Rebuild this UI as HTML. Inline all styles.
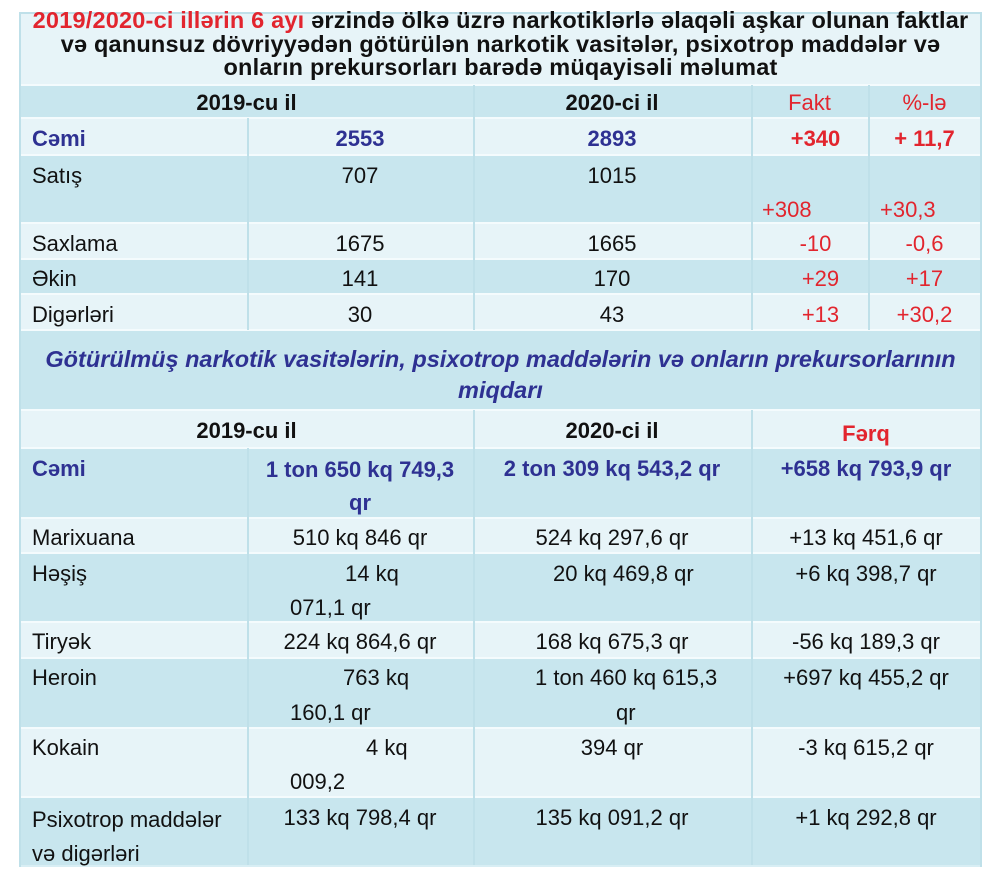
<!DOCTYPE html>
<html><head><meta charset="utf-8"><style>
body{margin:0;width:1000px;height:880px;background:#fff;position:relative;overflow:hidden;font-family:"Liberation Sans",Arial,sans-serif;}
.r{position:absolute;left:20px;width:961px;}
.d{background:#c8e6ee}.l{background:#e7f4f8}
.h{position:absolute;left:20px;width:961px;height:2px;background:#f4fbfd}
.v{position:absolute;width:2px;background:#bfe0e9}
.t{position:absolute;font-size:22px;white-space:nowrap;color:#111;line-height:26px}
.c{text-align:center}
.b{font-weight:bold}
.bl{color:#2e3192}.rd{color:#e2252e}
</style></head><body>
<div class="r l" style="top:12px;height:73px"></div>
<div class="r d" style="top:85px;height:33px"></div>
<div class="r l" style="top:118px;height:37px"></div>
<div class="r d" style="top:155px;height:68px"></div>
<div class="r l" style="top:223px;height:36px"></div>
<div class="r d" style="top:259px;height:35px"></div>
<div class="r l" style="top:294px;height:36px"></div>
<div class="r d" style="top:330px;height:80px"></div>
<div class="r l" style="top:410px;height:38px"></div>
<div class="r d" style="top:448px;height:70px"></div>
<div class="r l" style="top:518px;height:35px"></div>
<div class="r d" style="top:553px;height:69px"></div>
<div class="r l" style="top:622px;height:36px"></div>
<div class="r d" style="top:658px;height:70px"></div>
<div class="r l" style="top:728px;height:69px"></div>
<div class="r d" style="top:797px;height:68px"></div>
<div class="h" style="top:84px"></div><div class="h" style="top:117px"></div><div class="h" style="top:154px"></div>
<div class="h" style="top:222px"></div><div class="h" style="top:258px"></div><div class="h" style="top:293px"></div>
<div class="h" style="top:329px"></div><div class="h" style="top:409px"></div><div class="h" style="top:447px"></div>
<div class="h" style="top:517px"></div><div class="h" style="top:552px"></div><div class="h" style="top:621px"></div>
<div class="h" style="top:657px"></div><div class="h" style="top:727px"></div><div class="h" style="top:796px"></div>
<div class="h" style="top:865px;background:#d8eef4"></div>
<div class="v" style="left:19px;top:12px;height:855px"></div>
<div class="v" style="left:980px;top:12px;height:855px"></div>
<div class="v" style="left:247px;top:118px;height:212px"></div>
<div class="v" style="left:473px;top:85px;height:245px"></div>
<div class="v" style="left:751px;top:85px;height:245px"></div>
<div class="v" style="left:868px;top:85px;height:245px"></div>
<div class="v" style="left:473px;top:410px;height:455px"></div>
<div class="v" style="left:751px;top:410px;height:455px"></div>
<div class="v" style="left:247px;top:448px;height:417px"></div>
<div class="v" style="left:19px;top:12px;height:2px;width:962px"></div>
<div class="t c b" style="left:20px;width:961px;top:9px;line-height:23.5px;font-size:23.5px;letter-spacing:0.2px">
<span class="rd">2019/2020-ci illərin 6 ayı</span> ərzində ölkə üzrə narkotiklərlə əlaqəli aşkar olunan faktlar<br>və qanunsuz dövriyyədən götürülən narkotik vasitələr, psixotrop maddələr və<br>onların prekursorları barədə müqayisəli məlumat</div>
<div class="t c b" style="left:20px;width:453px;top:90px">2019-cu il</div>
<div class="t c b" style="left:473px;width:278px;top:90px">2020-ci il</div>
<div class="t c rd" style="left:751px;width:117px;top:90px">Fakt</div>
<div class="t c rd" style="left:868px;width:113px;top:90px">%-lə</div>
<div class="t b bl" style="left:32px;top:126px">Cəmi</div>
<div class="t c b bl" style="left:247px;width:226px;top:126px">2553</div>
<div class="t c b bl" style="left:473px;width:278px;top:126px">2893</div>
<div class="t c b rd" style="left:757px;width:117px;top:126px">+340</div>
<div class="t c b rd" style="left:868px;width:113px;top:126px">+ 11,7</div>
<div class="t" style="left:32px;top:163px">Satış</div>
<div class="t c" style="left:247px;width:226px;top:163px">707</div>
<div class="t c" style="left:473px;width:278px;top:163px">1015</div>
<div class="t rd" style="left:762px;top:197px">+308</div>
<div class="t rd" style="left:880px;top:197px">+30,3</div>
<div class="t" style="left:32px;top:231px">Saxlama</div>
<div class="t c" style="left:247px;width:226px;top:231px">1675</div>
<div class="t c" style="left:473px;width:278px;top:231px">1665</div>
<div class="t c rd" style="left:757px;width:117px;top:231px">-10</div>
<div class="t c rd" style="left:868px;width:113px;top:231px">-0,6</div>
<div class="t" style="left:32px;top:266px">Əkin</div>
<div class="t c" style="left:247px;width:226px;top:266px">141</div>
<div class="t c" style="left:473px;width:278px;top:266px">170</div>
<div class="t c rd" style="left:762px;width:117px;top:266px">+29</div>
<div class="t c rd" style="left:868px;width:113px;top:266px">+17</div>
<div class="t" style="left:32px;top:302px">Digərləri</div>
<div class="t c" style="left:247px;width:226px;top:302px">30</div>
<div class="t c" style="left:473px;width:278px;top:302px">43</div>
<div class="t c rd" style="left:762px;width:117px;top:302px">+13</div>
<div class="t c rd" style="left:868px;width:113px;top:302px">+30,2</div>
<div class="t c b bl" style="left:20px;width:961px;top:344px;font-style:italic;line-height:31px;font-size:23.5px">Götürülmüş narkotik vasitələrin, psixotrop maddələrin və onların prekursorlarının<br>miqdarı</div>
<div class="t c b" style="left:20px;width:453px;top:418px">2019-cu il</div>
<div class="t c b" style="left:473px;width:278px;top:418px">2020-ci il</div>
<div class="t c b rd" style="left:751px;width:230px;top:421px">Fərq</div>
<div class="t b bl" style="left:32px;top:456px">Cəmi</div>
<div class="t c b bl" style="left:247px;width:226px;top:453px;line-height:33px">1 ton 650 kq 749,3<br>qr</div>
<div class="t c b bl" style="left:473px;width:278px;top:456px">2 ton 309 kq 543,2 qr</div>
<div class="t c b bl" style="left:751px;width:230px;top:456px">+658 kq 793,9 qr</div>
<div class="t" style="left:32px;top:525px">Marixuana</div>
<div class="t c" style="left:247px;width:226px;top:525px">510 kq 846 qr</div>
<div class="t c" style="left:473px;width:278px;top:525px">524 kq 297,6 qr</div>
<div class="t c" style="left:751px;width:230px;top:525px">+13 kq 451,6 qr</div>
<div class="t" style="left:32px;top:561px">Həşiş</div>
<div class="t" style="left:345px;top:561px">14 kq</div>
<div class="t" style="left:290px;top:595px">071,1 qr</div>
<div class="t" style="left:553px;top:561px">20 kq 469,8 qr</div>
<div class="t c" style="left:751px;width:230px;top:561px">+6 kq 398,7 qr</div>
<div class="t" style="left:32px;top:629px">Tiryək</div>
<div class="t c" style="left:247px;width:226px;top:629px">224 kq 864,6 qr</div>
<div class="t c" style="left:473px;width:278px;top:629px">168 kq 675,3 qr</div>
<div class="t c" style="left:751px;width:230px;top:629px">-56 kq 189,3 qr</div>
<div class="t" style="left:32px;top:665px">Heroin</div>
<div class="t" style="left:343px;top:665px">763 kq</div>
<div class="t" style="left:290px;top:700px">160,1 qr</div>
<div class="t" style="left:535px;top:665px">1 ton 460 kq 615,3</div>
<div class="t" style="left:616px;top:700px">qr</div>
<div class="t c" style="left:751px;width:230px;top:665px">+697 kq 455,2 qr</div>
<div class="t" style="left:32px;top:735px">Kokain</div>
<div class="t" style="left:366px;top:735px">4 kq</div>
<div class="t" style="left:290px;top:769px">009,2</div>
<div class="t c" style="left:473px;width:278px;top:735px">394 qr</div>
<div class="t c" style="left:751px;width:230px;top:735px">-3 kq 615,2 qr</div>
<div class="t" style="left:32px;top:803px;line-height:34px">Psixotrop maddələr<br>və digərləri</div>
<div class="t c" style="left:247px;width:226px;top:805px">133 kq 798,4 qr</div>
<div class="t c" style="left:473px;width:278px;top:805px">135 kq 091,2 qr</div>
<div class="t c" style="left:751px;width:230px;top:805px">+1 kq 292,8 qr</div>
</body></html>
